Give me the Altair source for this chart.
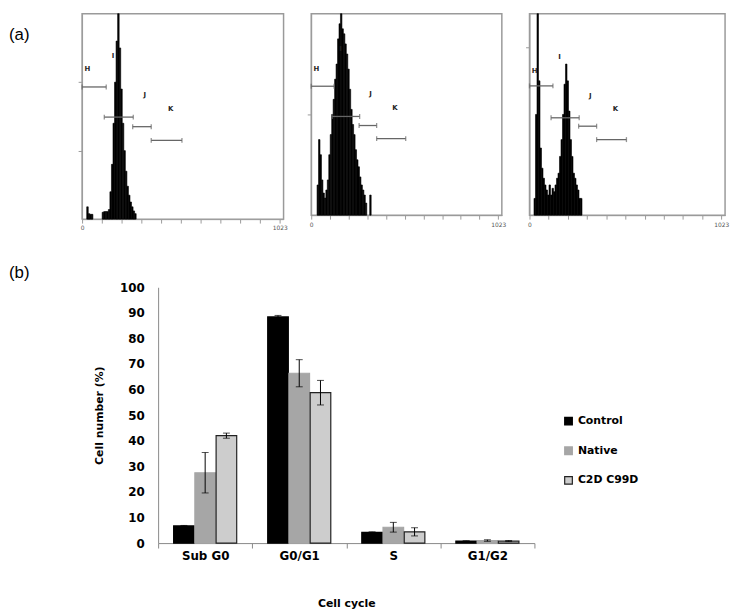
import altair as alt
import pandas as pd

# ---------------- Panel (a): DNA histograms (8-channel bins) ----------------
h1_ch = [24, 32, 40, 48, 104, 112, 120, 128, 136, 144, 152, 160, 168, 176, 184, 192, 200,
         208, 216, 224, 232, 240, 248, 256, 264, 272]
h1_ct = [18, 8, 7, 7, 10, 11, 11, 11, 14, 40, 80, 140, 200, 260, 300, 250, 190,
         140, 100, 70, 48, 35, 25, 18, 12, 8]

h2_ch = [32, 40, 48, 56, 64, 72, 80, 88, 96, 104, 112, 120, 128, 136, 144, 152, 160, 168,
         176, 184, 192, 200, 208, 216, 224, 232, 240, 248, 256, 264, 272, 280, 288, 296, 320]
h2_ct = [30, 75, 60, 35, 22, 17, 25, 35, 60, 80, 100, 115, 135, 150, 175, 190, 200, 185,
         180, 170, 160, 145, 125, 105, 90, 80, 65, 55, 48, 38, 30, 25, 20, 12, 20]

h3_ch = [24, 32, 40, 48, 56, 64, 72, 80, 88, 96, 104, 112, 120, 128, 136, 144, 152, 160,
         168, 176, 184, 192, 200, 208, 216, 224, 232, 240, 248, 256, 264, 272]
h3_ct = [10, 60, 120, 80, 40, 28, 22, 18, 15, 12, 18, 12, 16, 14, 18, 22, 25, 35,
         45, 60, 78, 90, 80, 62, 45, 35, 25, 22, 18, 15, 10, 10]

gate_names = ["H", "I", "J", "K"]
gate_x1 = [0, 115, 262, 358]
gate_x2 = [125, 265, 358, 517]
gate_lx = [28, 160, 324, 458]
g1_y = [193, 149, 135, 115]
g1_ly = [219, 238, 181, 161]
g2_y = [128, 98, 89, 76]
g2_ly = [145, 165, 120, 106]
g3_y = [77, 58, 53, 45]
g3_ly = [86, 94, 71, 63]

x_ticks = [0, 102.3, 204.6, 306.9, 409.2, 511.5, 613.8, 716.1, 818.4, 920.7, 1023]

# ---------------- Panel (b): cell-cycle bar chart ----------------
phases = ["Sub G0", "G0/G1", "S", "G1/G2"]
series = ["Control", "Native", "C2D C99D"]
ctrl_val = [6.7, 88.4, 4.2, 0.8]
ctrl_err = [0.2, 0.6, 0.2, 0.1]
nat_val = [27.5, 66.4, 6.2, 1.0]
nat_err = [7.9, 5.3, 1.9, 0.3]
c2d_val = [42.0, 58.8, 4.4, 0.8]
c2d_err = [1.0, 4.8, 1.6, 0.2]
y_ticks = list(range(0, 101, 10))

GRAY = "#9a9a9a"


def hist_panel(ch, ct, ymax, yvals, gy, gly, w, h, tag=None):
    df = pd.DataFrame({"ch": ch, "ch2": [c + 8 for c in ch], "n": ct})
    gdf = pd.DataFrame({"g": gate_names, "x1": gate_x1, "x2": gate_x2, "y": gy,
                        "lx": gate_lx, "ly": gly})
    xs = alt.Scale(domain=[0, 1043], nice=False, zero=False)
    ys = alt.Scale(domain=[0, ymax], nice=False)
    xax = alt.Axis(values=x_ticks, title=None, grid=False, tickSize=4,
                   labelExpr="datum.value == 0 ? '0' : (datum.value > 1000 ? '1023' : '')",
                   labelFontSize=6, labelFont="DejaVu Sans", labelColor="#555",
                   labelPadding=2, domainColor=GRAY, tickColor=GRAY, labelFlush=False)
    yax = alt.Axis(values=yvals, title=None, grid=False, labels=False, tickSize=4,
                   domainColor=GRAY, tickColor=GRAY)
    bars = alt.Chart(df).mark_rect(color="black", stroke="black", strokeWidth=0.6).encode(
        x=alt.X("ch:Q", scale=xs, axis=xax), x2="ch2:Q",
        y=alt.Y("n:Q", scale=ys, axis=yax), y2=alt.datum(0))
    rule = alt.Chart(gdf).mark_rule(color="#666", strokeWidth=1.3).encode(
        x=alt.X("x1:Q", scale=xs, axis=xax), x2="x2:Q",
        y=alt.Y("y:Q", scale=ys, axis=yax))
    cap1 = alt.Chart(gdf).mark_tick(orient="vertical", size=5, thickness=1.3, color="#666").encode(
        x=alt.X("x1:Q", scale=xs, axis=xax), y=alt.Y("y:Q", scale=ys, axis=yax))
    cap2 = alt.Chart(gdf).mark_tick(orient="vertical", size=5, thickness=1.3, color="#666").encode(
        x=alt.X("x2:Q", scale=xs, axis=xax), y=alt.Y("y:Q", scale=ys, axis=yax))
    lab = alt.Chart(gdf).mark_text(font="DejaVu Sans", fontWeight="bold", fontSize=7,
                                   color="#222").encode(
        x=alt.X("lx:Q", scale=xs, axis=xax), y=alt.Y("ly:Q", scale=ys, axis=yax), text="g:N")
    layers = [bars, rule, cap1, cap2, lab]
    if tag is not None:
        tdf = pd.DataFrame({"t": [tag]})
        layers.append(alt.Chart(tdf).mark_text(font="Liberation Sans", fontSize=17, align="left",
                                               baseline="middle", color="black").encode(
            text="t:N", x=alt.value(-74), y=alt.value(22)))
    return alt.layer(*layers).properties(
        width=w, height=h, view=alt.ViewBackground(stroke=GRAY, strokeWidth=1.5))


p1 = hist_panel(h1_ch, h1_ct, 300, [100, 200], g1_y, g1_ly, 204, 208, tag="(a)")
p2 = hist_panel(h2_ch, h2_ct, 200, [100], g2_y, g2_ly, 193, 204)
p3 = hist_panel(h3_ch, h3_ct, 120, [100], g3_y, g3_ly, 198, 204)

top = alt.hconcat(p1, p2, p3, spacing=17)

# ---- bar chart (its view starts at the same x as panel 1; the axes sit 77 px inside) ----
rows = []
for vals, errs, s in [(ctrl_val, ctrl_err, series[0]), (nat_val, nat_err, series[1]),
                      (c2d_val, c2d_err, series[2])]:
    for p, v, e in zip(phases, vals, errs):
        rows.append({"phase": p, "series": s, "val": v, "lo": v - e, "hi": v + e})
bdf = pd.DataFrame(rows)

BW = 458
INSET = 77
xsc = alt.Scale(paddingInner=0, paddingOuter=0, range=[INSET, BW])
osc = alt.Scale(paddingInner=0.03, paddingOuter=0.73)
ysc = alt.Scale(domain=[0, 100], nice=False)
bx_axis = alt.Axis(title="Cell cycle", labelAngle=0, labelFont="DejaVu Sans",
                   labelFontWeight="bold", labelFontSize=12, labelColor="black",
                   labelPadding=3, tickBand="extent", tickSize=5, tickColor="#888",
                   domainColor="#888", titleFont="DejaVu Sans", titleFontSize=11,
                   titleFontWeight="bold", titleColor="black", titlePadding=36)
by_axis = alt.Axis(values=y_ticks, title="Cell number (%)", grid=False, ticks=False,
                   offset=-INSET,
                   labelFont="DejaVu Sans", labelFontWeight="bold", labelFontSize=12,
                   labelColor="black", labelPadding=14, domainColor="#888",
                   titleFont="DejaVu Sans", titleFontSize=11, titleFontWeight="bold",
                   titleColor="black", titlePadding=15)
leg = alt.Legend(title=None, orient="none", legendX=487, legendY=130, symbolType="square",
                 symbolSize=60, symbolStrokeWidth=1.2, labelFont="DejaVu Sans",
                 labelFontWeight="bold", labelFontSize=11, labelColor="black", rowPadding=17)

X = alt.X("phase:N", sort=phases, scale=xsc, axis=bx_axis)
XO = alt.XOffset("series:N", sort=series, scale=osc)

bars = alt.Chart(bdf).mark_bar(strokeWidth=1.2).encode(
    x=X, xOffset=XO,
    y=alt.Y("val:Q", scale=ysc, axis=by_axis),
    fill=alt.Fill("series:N", sort=series,
                  scale=alt.Scale(domain=series, range=["#000000", "#a6a6a6", "#cdcdcd"]),
                  legend=leg),
    stroke=alt.Stroke("series:N", sort=series,
                      scale=alt.Scale(domain=series, range=["#000000", "#a6a6a6", "#222222"]),
                      legend=leg))
err = alt.Chart(bdf).mark_rule(color="black", strokeWidth=1).encode(
    x=X, xOffset=XO, y=alt.Y("lo:Q", scale=ysc, axis=by_axis), y2="hi:Q")
cap_hi = alt.Chart(bdf).mark_tick(orient="horizontal", size=7, thickness=1, color="black").encode(
    x=X, xOffset=XO, y=alt.Y("hi:Q", scale=ysc, axis=by_axis))
cap_lo = alt.Chart(bdf).mark_tick(orient="horizontal", size=7, thickness=1, color="black").encode(
    x=X, xOffset=XO, y=alt.Y("lo:Q", scale=ysc, axis=by_axis))
btag = alt.Chart(pd.DataFrame({"t": ["(b)"]})).mark_text(
    font="Liberation Sans", fontSize=17, align="left", baseline="middle", color="black").encode(
    text="t:N", x=alt.value(-74), y=alt.value(-14))

bottom = alt.layer(bars, err, cap_hi, cap_lo, btag).properties(
    width=BW, height=259, view=alt.ViewBackground(stroke=None))

chart = alt.concat(top, bottom, columns=1, align="none", spacing=33).properties(
    padding={"left": 0, "top": 0, "right": 0, "bottom": 0}
).resolve_legend(fill="independent", stroke="independent").configure(background="white")

chart.save("out.html", embed_options={"renderer": "svg", "actions": False})
